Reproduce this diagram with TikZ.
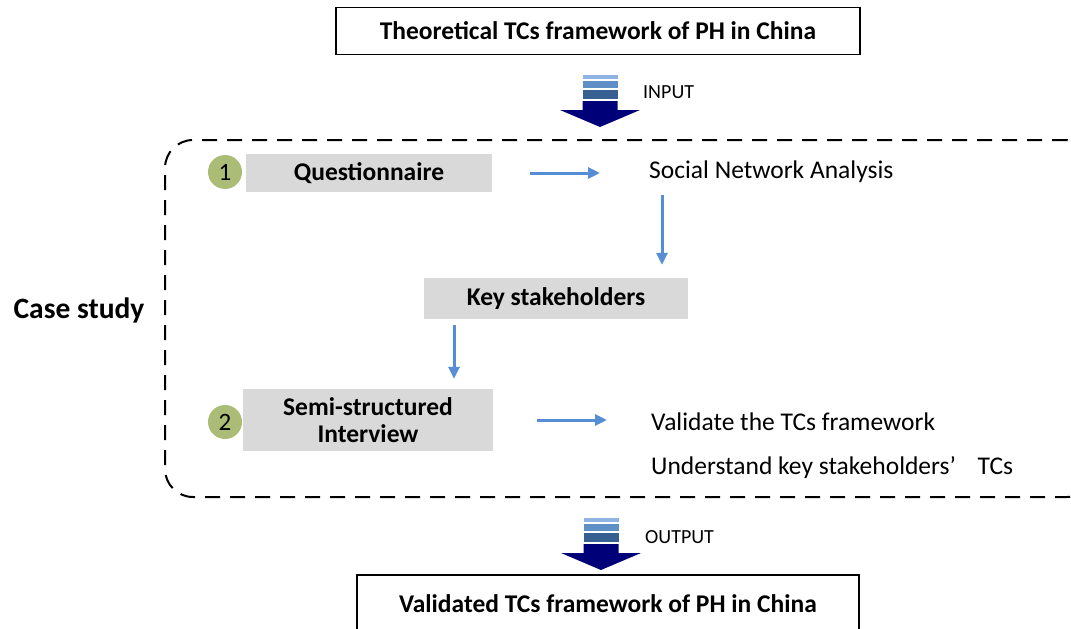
\documentclass[tikz,border=0pt]{standalone}
\usepackage{fontspec}
\setmainfont{Carlito}
\usepackage{tikz}
\usetikzlibrary{arrows.meta,positioning,calc}

\definecolor{boxgray}{HTML}{D9D9D9}
\definecolor{linkblue}{HTML}{558ED5}
\definecolor{stepgreen}{RGB}{170,188,118}
\definecolor{stripeA}{HTML}{8DB4E2}
\definecolor{stripeB}{HTML}{5E8FC6}
\definecolor{stripeC}{HTML}{366092}
\definecolor{deepnavy}{RGB}{0,0,120}

% striped block arrow, #1 = centre x, #2 = top y
\newcommand{\stackarrow}[2]{%
  \fill[stripeA] (#1-17.5,#2) rectangle (#1+17.5,#2+4);
  \fill[stripeB] (#1-17.5,#2+6) rectangle (#1+17.5,#2+13);
  \fill[stripeC] (#1-17.5,#2+15) rectangle (#1+17.5,#2+24);
  \fill[deepnavy] (#1-17.5,#2+26) -- (#1+17.5,#2+26) -- (#1+17.5,#2+35)
    -- (#1+40,#2+35) -- (#1,#2+52) -- (#1-40,#2+35) -- (#1-17.5,#2+35) -- cycle;
}

\begin{document}
\begin{tikzpicture}[x=1pt,y=-1pt,
    frame/.style={draw,line width=1.3pt,inner sep=0pt,
      font=\fontsize{25.5}{30}\selectfont\bfseries},
    graybox/.style={fill=boxgray,inner sep=0pt,align=center,
      font=\fontsize{25.5}{30}\selectfont\bfseries},
    plain/.style={inner sep=0pt,anchor=west,font=\fontsize{25.5}{30}\selectfont},
    tag/.style={inner sep=0pt,anchor=west,font=\fontsize{20}{24}\selectfont},
    num/.style={circle,fill=stepgreen,minimum size=34pt,inner sep=0pt,
      font=\fontsize{25}{30}\selectfont},
    link/.style={-{Triangle[length=12pt,width=11pt]},draw=linkblue,
      fill=linkblue,line width=3pt}]
  \useasboundingbox (0,0) rectangle (1071,629);
  \clip (0,0) rectangle (1071,629);

  \node[frame,minimum width=524pt,minimum height=47pt] (theory) at (598,31)
    {Theoretical TCs framework of PH in China};

  \stackarrow{600}{75}
  \node[tag] (input) at (643,92) {INPUT};

  \node[draw,dashed,dash pattern=on 15pt off 10pt,line width=2pt,
    rounded corners=28pt,minimum width=930pt,minimum height=357pt]
    (casebox) at (630,318.5) {};
  \node[inner sep=0pt,font=\fontsize{29.5}{34}\selectfont\bfseries]
    (case) at (79,310) {Case study};

  \node[num] (one) at (225,172) {1};
  \node[graybox,minimum width=246pt,minimum height=38pt] (quest) at (369,173)
    {Questionnaire};
  \node[plain] (sna) at (649,172) {Social Network Analysis};

  \node[graybox,minimum width=264pt,minimum height=41pt] (key) at (556,298.5)
    {Key stakeholders};

  \node[num] (two) at (225,422) {2};
  \node[graybox,minimum width=250pt,minimum height=62pt] (semi) at (368,420)
    {Semi-structured\\[-3pt]Interview};
  \node[plain] (valid) at (651,422) {Validate the TCs framework};
  \node[plain] (under) at (651,468) {Understand key stakeholders’\hspace{0.85em}TCs};

  \stackarrow{601}{518}
  \node[tag] (output) at (645,537) {OUTPUT};

  \node[frame,minimum width=502pt,minimum height=58pt] (result) at (608,604)
    {Validated TCs framework of PH in China};

  % links
  \draw[link,shorten <=38pt,shorten >=49pt] (quest.east) -- (quest.east -| sna.west);
  \draw[link,shorten <=12pt,shorten >=13pt] ([xshift=13pt]sna.south west)
    -- ([xshift=13pt]sna.south west |- key.north);
  \draw[link,shorten <=6pt,shorten >=10pt] ([xshift=-102pt]key.south)
    -- ([xshift=-102pt]key.south |- semi.north);
  \draw[link,shorten <=44pt,shorten >=44pt] (semi.east) -- (semi.east -| valid.west);
\end{tikzpicture}
\end{document}
